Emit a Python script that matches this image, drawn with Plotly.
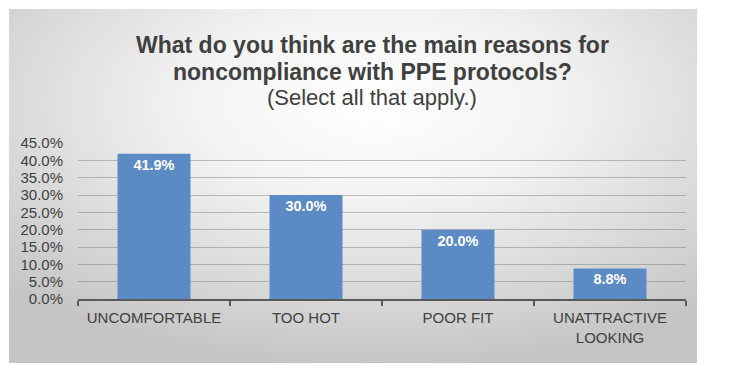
import base64
import plotly.graph_objects as go

categories = ["UNCOMFORTABLE", "TOO HOT", "POOR FIT", "UNATTRACTIVE<br>LOOKING"]
values = [0.419, 0.300, 0.200, 0.088]
y_tick_values = [0, 0.05, 0.10, 0.15, 0.20, 0.25, 0.30, 0.35, 0.40, 0.45]
title_lines = ["<b>What do you think are the main reasons for</b>",
               "<b>noncompliance with PPE protocols?</b>",
               "(Select all that apply.)"]

OFF = 8  # page body margin
W, H = 732 - OFF, 377 - OFF
# screen coords of plot area
sl, sr, st, sb = 78, 686, 143, 299
L, T = sl - OFF, st - OFF
R, B = W - (sr - OFF), H - (sb - OFF)
pw, ph = W - L - R, H - T - B

def px(x):
    return (x - OFF - L) / pw

def py(y):
    return (H - B - (y - OFF)) / ph

svg = """<svg xmlns='http://www.w3.org/2000/svg' width='688' height='354' preserveAspectRatio='none' viewBox='0 0 688 354'>
<defs><radialGradient id='g' cx='0.53' cy='0.27' r='0.75' gradientUnits='objectBoundingBox'>
<stop offset='0' stop-color='#ffffff'/>
<stop offset='0.35' stop-color='#f3f3f3'/>
<stop offset='1' stop-color='#c4c4c4'/>
</radialGradient></defs>
<rect x='0' y='0' width='688' height='354' fill='url(#g)'/></svg>"""
src = "data:image/svg+xml;base64," + base64.b64encode(svg.encode()).decode()

box_l, box_t, box_r, box_b = 9, 9, 697, 363
FONT = "Liberation Sans, Arial, sans-serif"

fig = go.Figure(go.Bar(
    x=categories, y=values,
    marker=dict(color="#5b8ac4", line=dict(width=0)),
    texttemplate="%{y:.1%}",
    textposition="inside",
    insidetextanchor="end",
    constraintext="none",
    textfont=dict(family=FONT, size=14.5, color="white", weight="bold"),
    width=0.48,
))

fig.update_layout(
    width=W, height=H,
    margin=dict(l=L, r=R, t=T, b=B, pad=0),
    paper_bgcolor="white",
    plot_bgcolor="rgba(0,0,0,0)",
    showlegend=False,
    font=dict(family=FONT, color="#404040"),
    images=[dict(
        source=src, xref="paper", yref="paper",
        x=px(box_l), y=py(box_t),
        sizex=(box_r - box_l) / pw, sizey=(box_b - box_t) / ph,
        xanchor="left", yanchor="top", sizing="stretch", layer="below",
    )],
    xaxis=dict(
        showgrid=False, showline=True, linecolor="#595959", linewidth=2,
        ticks="outside", tickson="boundaries", ticklen=5, tickwidth=1.5, tickcolor="#595959",
        tickfont=dict(size=15, color="#404040"),
        ticklabelstandoff=4,
    ),
    yaxis=dict(
        range=[0, 0.45], tickvals=y_tick_values, tickformat=".1%",
        showgrid=True, gridcolor="rgba(90,90,90,0.35)", gridwidth=1,
        zeroline=False, showline=False, ticks="",
        tickfont=dict(size=15, color="#404040"),
        ticklabelstandoff=14,
    ),
    annotations=[
        dict(text=title_lines[0], xref="paper", yref="paper", x=px(372), y=py(45),
             xanchor="center", yanchor="middle", showarrow=False,
             font=dict(size=23, color="#404040", family=FONT)),
        dict(text=title_lines[1], xref="paper", yref="paper", x=px(372), y=py(72),
             xanchor="center", yanchor="middle", showarrow=False,
             font=dict(size=23, color="#404040", family=FONT)),
        dict(text=title_lines[2], xref="paper", yref="paper", x=px(372), y=py(98),
             xanchor="center", yanchor="middle", showarrow=False,
             font=dict(size=22, color="#404040", family=FONT)),
    ],
)

fig.write_html("out.html")
